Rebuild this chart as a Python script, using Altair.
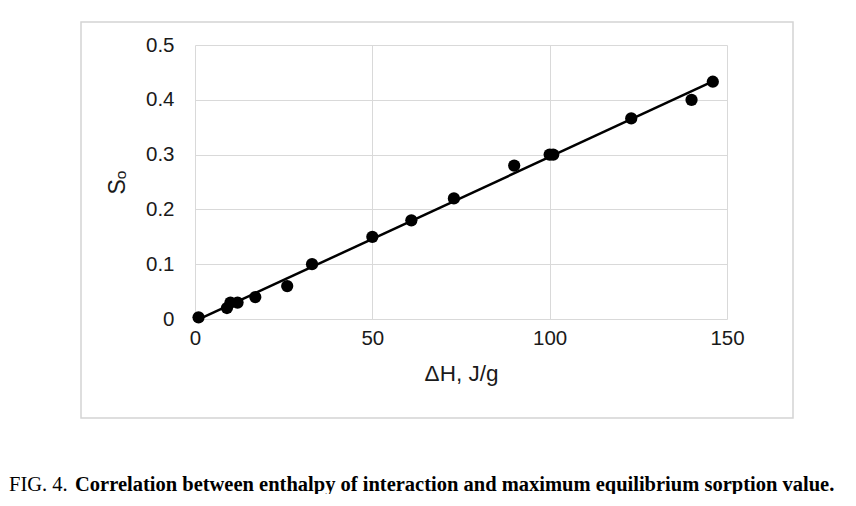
import altair as alt
import pandas as pd

dH = [1, 9, 10, 12, 17, 26, 33, 50, 61, 73, 90, 100, 101, 123, 140, 146]
S0 = [0.003, 0.02, 0.03, 0.03, 0.04, 0.06, 0.10, 0.15, 0.18, 0.22, 0.28, 0.30, 0.30, 0.366, 0.40, 0.433]
x_ticks = [0, 50, 100, 150]
y_ticks = [0, 0.1, 0.2, 0.3, 0.4, 0.5]

df = pd.DataFrame({"dH": dH, "S0": S0})

W, H = 532, 274
grid = "#d9d9d9"

xenc = alt.X("dH:Q", scale=alt.Scale(domain=[0, 150], nice=False),
             axis=alt.Axis(values=x_ticks, title="ΔH, J/g", grid=True, gridColor=grid,
                           domain=False, ticks=False, labelFont="Liberation Sans",
                           labelFontSize=20.5, labelColor="#1a1a1a", labelPadding=9,
                           titleFont="Liberation Sans", titleFontSize=22.5, titleFontWeight="normal",
                           titleColor="#1a1a1a", titlePadding=14, labelFlush=False))
yenc = alt.Y("S0:Q", scale=alt.Scale(domain=[0, 0.5], nice=False),
             axis=alt.Axis(values=y_ticks, title="Sₒ", grid=True, gridColor=grid,
                           domain=False, ticks=False, labelFont="Liberation Sans",
                           labelFontSize=20.5, labelColor="#1a1a1a", labelPadding=21,
                           titleFont="Liberation Sans", titleFontSize=23, titleFontWeight="normal",
                           titleColor="#1a1a1a", titlePadding=16, labelFlush=False,
                           format="~g"))

border = alt.Chart(pd.DataFrame({"a": [0]})).mark_rect(
    fill=None, stroke="#d4d4d4", strokeWidth=1.5
).encode(x=alt.value(-114), x2=alt.value(598), y=alt.value(-23), y2=alt.value(373))

points = alt.Chart(df).mark_circle(size=150, color="black", opacity=1).encode(x=xenc, y=yenc)
line = alt.Chart(df).mark_line(color="black", strokeWidth=2.5).transform_regression(
    "dH", "S0", extent=[1, 146]).encode(x="dH:Q", y="S0:Q")

cap1 = alt.Chart(pd.DataFrame({"t": ["FIG. 4."]})).mark_text(
    font="Liberation Serif", fontSize=20.5, align="left", baseline="alphabetic", color="black"
).encode(text="t:N", x=alt.value(-186), y=alt.value(446))
cap2 = alt.Chart(pd.DataFrame({"t": ["Correlation between enthalpy of interaction and maximum equilibrium sorption value."]})).mark_text(
    font="Liberation Serif", fontSize=20.5, fontWeight="bold", align="left", baseline="alphabetic", color="black"
).encode(text="t:N", x=alt.value(-120), y=alt.value(446))

chart = alt.layer(border, line, points, cap1, cap2).properties(
    width=W, height=H, autosize="none",
    padding={"left": 187, "top": 37, "right": 121, "bottom": 175}
).configure_view(stroke=None)

chart.save("out.html", embed_options={"renderer": "svg", "actions": False})
